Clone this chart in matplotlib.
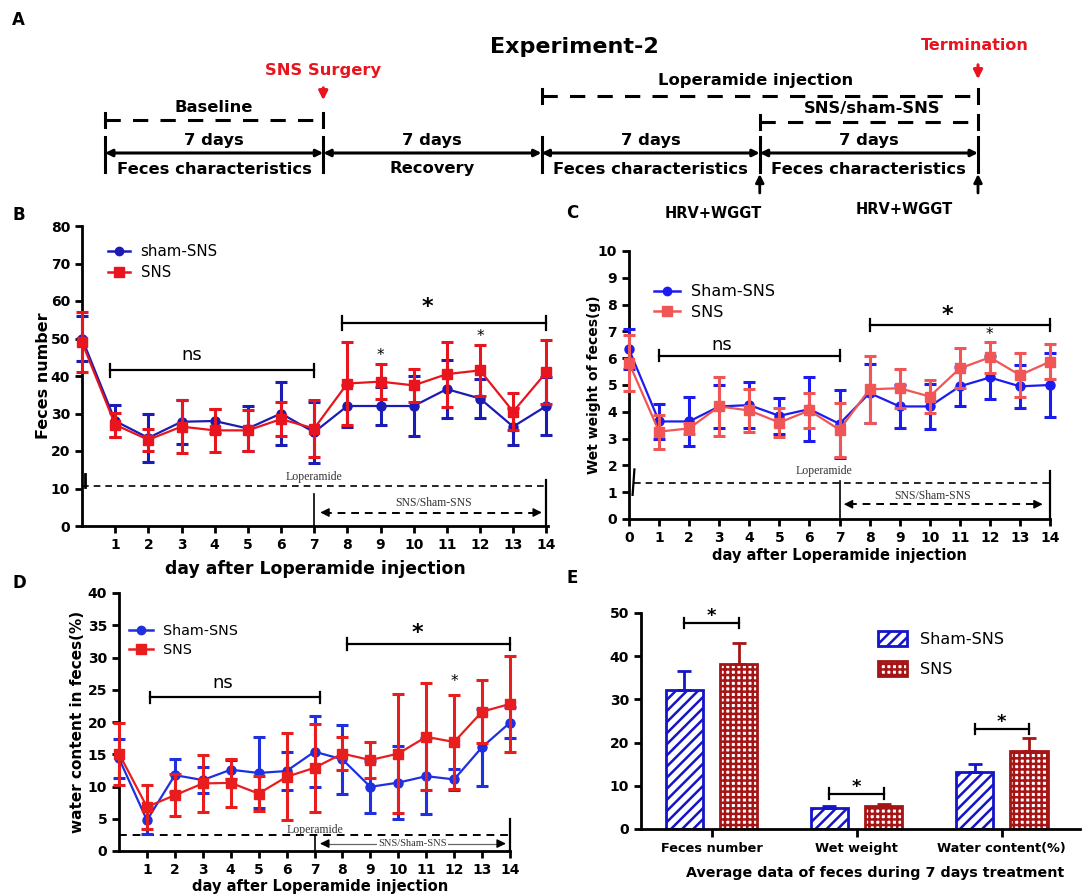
import matplotlib
matplotlib.use("Agg")
import matplotlib.pyplot as plt
from matplotlib.lines import Line2D
from matplotlib.patches import Patch
import numpy as np

W, H = 1084, 894
plt.rcParams['font.family'] = ['DejaVu Sans']
plt.rcParams['font.weight'] = 'bold'
plt.rcParams['axes.labelweight'] = 'bold'
plt.rcParams['hatch.linewidth'] = 1.8

# %% data -------------------------------------------------------------
days = np.arange(15)

# B: feces number
b_sham = [50, 28, 23.5, 27.8, 28, 26, 30, 25, 32, 32, 32, 36.5, 34, 26.5, 32]
b_sham_err = [6, 4.2, 6.5, 5.8, 3.2, 6, 8.5, 8.2, 5.5, 5, 8, 7.8, 5.2, 5, 7.7]
b_sns = [49, 27, 23, 26.5, 25.5, 25.5, 28.5, 26, 38, 38.5, 37.5, 40.5, 41.5, 30.5, 41]
b_sns_err = [8, 3.2, 3, 7, 5.7, 5.5, 4.5, 7.5, 11, 4.7, 4.5, 8.7, 6.7, 5, 8.5]

# C: wet weight of feces (g)
c_sham = [6.33, 3.64, 3.64, 4.2, 4.25, 3.85, 4.1, 3.55, 4.7, 4.2, 4.2, 4.95, 5.28, 4.95, 5.0]
c_sham_err = [0.75, 0.65, 0.9, 0.8, 0.85, 0.68, 1.18, 1.28, 1.1, 0.8, 0.85, 0.72, 0.82, 0.8, 1.2]
c_sns = [5.83, 3.26, 3.38, 4.2, 4.05, 3.6, 4.05, 3.33, 4.84, 4.88, 4.57, 5.62, 6.03, 5.37, 5.87]
c_sns_err = [1.05, 0.63, 0.2, 1.1, 0.8, 0.55, 0.65, 1.0, 1.25, 0.73, 0.63, 0.75, 0.58, 0.83, 0.65]

# D: water content in feces (%)
d_sham = [14.35, 4.77, 11.76, 11.0, 12.6, 12.1, 12.4, 15.4, 14.2, 9.95, 10.6, 11.6, 11.1, 16.1, 19.9]
d_sham_err = [3.0, 2.1, 2.55, 1.95, 1.45, 5.5, 2.9, 5.55, 5.3, 4.05, 5.7, 5.9, 1.6, 5.95, 2.45]
d_sns = [15.1, 6.84, 8.65, 10.47, 10.57, 8.9, 11.5, 12.9, 15.1, 14.1, 15.1, 17.7, 16.9, 21.6, 22.8]
d_sns_err = [4.8, 3.4, 3.25, 4.35, 3.75, 2.75, 6.75, 6.85, 2.5, 2.85, 9.2, 8.3, 7.3, 4.85, 7.45]

# E: averages over the 7 treatment days
e_cats = ['Feces number', 'Wet weight', 'Water content(%)']
e_sham = [32.2, 4.8, 13.1]
e_sham_err = [4.4, 0.5, 2.0]
e_sns = [38.2, 5.4, 18.0]
e_sns_err = [4.8, 0.5, 3.0]

# A: timeline phases (days)
phase_start = [0, 7, 14, 21]
phase_top = ['7 days', '7 days', '7 days', '7 days']
phase_bottom = ['Feces characteristics', 'Recovery', 'Feces characteristics',
                'Feces characteristics']

RED = '#e8141e'

fig = plt.figure(figsize=(W / 100, H / 100), dpi=100)


def add_ax(left, top, right, bottom):
    return fig.add_axes([left / W, 1 - bottom / H, (right - left) / W, (bottom - top) / H])


def fx(px):
    return px / W


def fy(py):
    return 1 - py / H


def style(ax):
    for s in ['top', 'right']:
        ax.spines[s].set_visible(False)
    for s in ['left', 'bottom']:
        ax.spines[s].set_linewidth(2)
    ax.tick_params(width=2, length=5, labelsize=10, direction='out')


def bracket(ax, x0, x1, y, h, lw=1.6):
    ax.plot([x0, x1], [y, y], color='k', lw=lw, clip_on=False)
    ax.plot([x0, x0], [y - h, y + h], color='k', lw=lw, clip_on=False)
    ax.plot([x1, x1], [y - h, y + h], color='k', lw=lw, clip_on=False)


def arrow_heads(ax, x0, x1, y, ms=13):
    ax.annotate('', xy=(x1, y), xytext=(x1 - 0.3, y),
                arrowprops=dict(arrowstyle='-|>', color='k', lw=1, mutation_scale=ms))
    ax.annotate('', xy=(x0, y), xytext=(x0 + 0.3, y),
                arrowprops=dict(arrowstyle='-|>', color='k', lw=1, mutation_scale=ms))


def line_panel(ax, sham, sham_err, sns, sns_err, blue, red):
    ax.errorbar(days, sham, yerr=sham_err, fmt='-o', color=blue, ms=6.5, lw=1.6,
                elinewidth=2.2, capsize=4, capthick=2.2, clip_on=False, zorder=3)
    ax.errorbar(days, sns, yerr=sns_err, fmt='-s', color=red, ms=7, lw=1.6,
                elinewidth=2.2, capsize=4, capthick=2.2, clip_on=False, zorder=4)
    style(ax)


serif = dict(family=['Liberation Serif', 'DejaVu Serif'], weight='normal', color='#333333')
TL = 11.8  # timeline text size

# %% A: timeline -------------------------------------------------------
tl = add_ax(105, 0, 978, 230)
tl.set_xlim(0, 28)
tl.set_ylim(230, 0)
tl.axis('off')
tl.text(15.05, 47, 'Experiment-2', ha='center', va='center', fontsize=16)
tl.text(27.9, 46, 'Termination', ha='center', va='center', fontsize=11.5, color=RED)
tl.annotate('', xy=(28, 82), xytext=(28, 62),
            arrowprops=dict(arrowstyle='-|>', color=RED, lw=2.2, mutation_scale=13))
tl.text(7, 70, 'SNS Surgery', ha='center', va='center', fontsize=11.8, color=RED)
tl.annotate('', xy=(7, 103), xytext=(7, 85),
            arrowprops=dict(arrowstyle='-|>', color=RED, lw=2.2, mutation_scale=13))
tl.text(20.85, 81, 'Loperamide injection', ha='center', va='center', fontsize=TL)
tl.text(3.5, 108, 'Baseline', ha='center', va='center', fontsize=TL)
tl.text(24.6, 108, 'SNS/sham-SNS', ha='center', va='center', fontsize=TL)
for x0, x1, y in [(14, 28, 96), (0, 7, 120), (21, 28, 122)]:
    tl.plot([x0, x1], [y, y], color='k', lw=2.2, dashes=(5, 4), clip_on=False)
    tl.plot([x0, x0], [y - 7, y + 7], color='k', lw=2.2, clip_on=False)
    tl.plot([x1, x1], [y - 7, y + 7], color='k', lw=2.2, clip_on=False)
for d in phase_start + [28]:
    tl.plot([d, d], [137, 172], color='k', lw=2.2, clip_on=False)
for d, top, bottom in zip(phase_start, phase_top, phase_bottom):
    tl.annotate('', xy=(d + 7, 153), xytext=(d, 153),
                arrowprops=dict(arrowstyle='<|-|>', color='k', lw=2.2, mutation_scale=10,
                                shrinkA=0, shrinkB=0))
    tl.text(d + 3.5, 141, top, ha='center', va='center', fontsize=TL)
    tl.text(d + 3.5, 169, bottom, ha='center', va='center', fontsize=TL)
for d in [21, 28]:
    tl.annotate('', xy=(d, 174), xytext=(d, 193),
                arrowprops=dict(arrowstyle='-|>', color='k', lw=2, mutation_scale=12,
                                shrinkA=0, shrinkB=0))
tl.text(19.5, 213, 'HRV+WGGT', ha='center', va='center', fontsize=10.5)
tl.text(25.65, 210, 'HRV+WGGT', ha='center', va='center', fontsize=10.5)

# %% B: feces number ---------------------------------------------------
BLUE_B, RED_B = '#1b1bb5', '#e8141e'
axB = add_ax(82, 226, 548, 526)
line_panel(axB, b_sham, b_sham_err, b_sns, b_sns_err, BLUE_B, RED_B)
axB.set_xlim(0, 14.05)
axB.set_ylim(0, 80)
axB.set_xticks(range(1, 15))
axB.set_yticks(range(0, 81, 10))
axB.set_ylabel('Feces number', fontsize=11.5)
axB.yaxis.set_label_coords(-0.066, 0.5)
axB.set_xlabel('day after Loperamide injection', fontsize=12.4)
axB.xaxis.set_label_coords(0.5, -0.112)
bracket(axB, 0.85, 7, 41.5, 1.8)
axB.text(3.3, 45.5, 'ns', ha='center', va='center', fontsize=13, weight='normal')
bracket(axB, 7.85, 14, 54.2, 1.8)
axB.text(10.4, 58.5, '*', ha='center', va='center', fontsize=16)
axB.text(9, 45.5, '*', ha='center', va='center', fontsize=11, weight='normal')
axB.text(12, 50.5, '*', ha='center', va='center', fontsize=11, weight='normal')
axB.plot([0, 14], [10.8, 10.8], color='k', lw=1.2, dashes=(4, 3))
axB.plot([0.1, 0.1], [10.3, 13.8], color='k', lw=2)
axB.plot([14, 14], [0, 12.2], color='k', lw=1.6, clip_on=False)
axB.plot([7, 7], [0, 8.5], color='k', lw=1.2)
axB.plot([7.3, 13.7], [3.6, 3.6], color='k', lw=1.4, dashes=(4, 3))
arrow_heads(axB, 7.1, 13.95, 3.6)
axB.text(7, 11.4, 'Loperamide', ha='center', va='bottom', fontsize=8.5, **serif)
axB.text(10.6, 4.4, 'SNS/Sham-SNS', ha='center', va='bottom', fontsize=8.5, **serif)
fig.legend(handles=[Line2D([], [], color=BLUE_B, marker='o', lw=1.8, ms=6),
                    Line2D([], [], color=RED_B, marker='s', lw=1.8, ms=6.5)],
           labels=['sham-SNS', 'SNS'], loc='upper left', bbox_to_anchor=(fx(94), fy(231)),
           frameon=False, handlelength=1.5, handletextpad=0.7, labelspacing=0.35,
           prop={'weight': 'normal', 'size': 10.8})

# %% C: wet weight -----------------------------------------------------
BLUE_C, RED_C = '#1c1cf0', '#f05656'
axC = add_ax(629, 251, 1050, 519)
line_panel(axC, c_sham, c_sham_err, c_sns, c_sns_err, BLUE_C, RED_C)
axC.set_xlim(0, 14)
axC.set_ylim(0, 10)
axC.set_xticks(range(0, 15))
axC.set_yticks(range(0, 11))
axC.set_ylabel('Wet weight of feces(g)', fontsize=10)
axC.yaxis.set_label_coords(-0.066, 0.5)
axC.set_xlabel('day after Loperamide injection', fontsize=10.5)
axC.xaxis.set_label_coords(0.5, -0.11)
bracket(axC, 1, 7, 6.1, 0.22)
axC.text(3.1, 6.5, 'ns', ha='center', va='center', fontsize=13, weight='normal')
bracket(axC, 8, 14, 7.25, 0.22)
axC.text(10.6, 7.6, '*', ha='center', va='center', fontsize=16)
axC.text(12, 6.9, '*', ha='center', va='center', fontsize=11, weight='normal')
axC.plot([0.15, 14], [1.35, 1.35], color='k', lw=1.2, dashes=(4, 3))
axC.plot([0.12, 0.18], [0.9, 1.85], color='k', lw=1.6)
axC.plot([14, 14], [0, 1.8], color='k', lw=1.6, clip_on=False)
axC.plot([7, 7], [0, 1.4], color='k', lw=1.2)
axC.plot([7.3, 13.7], [0.55, 0.55], color='k', lw=1.4, dashes=(4, 3))
arrow_heads(axC, 7.05, 13.85, 0.55)
axC.text(6.5, 1.55, 'Loperamide', ha='center', va='bottom', fontsize=8.5, **serif)
axC.text(10.1, 0.62, 'SNS/Sham-SNS', ha='center', va='bottom', fontsize=8.5, **serif)
fig.legend(handles=[Line2D([], [], color=BLUE_C, marker='o', lw=1.8, ms=6),
                    Line2D([], [], color=RED_C, marker='s', lw=1.8, ms=6.5)],
           labels=['Sham-SNS', 'SNS'], loc='upper left', bbox_to_anchor=(fx(640), fy(270)),
           frameon=False, handlelength=1.6, handletextpad=0.7, labelspacing=0.35,
           prop={'weight': 'normal', 'size': 11.5})

# %% D: water content --------------------------------------------------
BLUE_D, RED_D = '#1e30e0', '#e81e1e'
axD = add_ax(119, 593, 510, 851)
line_panel(axD, d_sham, d_sham_err, d_sns, d_sns_err, BLUE_D, RED_D)
axD.set_xlim(0, 14)
axD.set_ylim(0, 40)
axD.set_xticks(range(1, 15))
axD.set_yticks(range(0, 41, 5))
axD.set_ylabel('water content in feces(%)', fontsize=11)
axD.yaxis.set_label_coords(-0.087, 0.5)
axD.set_xlabel('day after Loperamide injection', fontsize=10.6)
axD.xaxis.set_label_coords(0.515, -0.11)
bracket(axD, 1.1, 7.2, 23.8, 0.9)
axD.text(3.7, 26.0, 'ns', ha='center', va='center', fontsize=13, weight='normal')
bracket(axD, 8.15, 14, 32.1, 0.9)
axD.text(10.7, 33.8, '*', ha='center', va='center', fontsize=16)
axD.text(12, 26.3, '*', ha='center', va='center', fontsize=11, weight='normal')
axD.plot([0, 14], [2.45, 2.45], color='k', lw=1.4, dashes=(4, 3))
axD.plot([14, 14], [0, 5], color='k', lw=1.6, clip_on=False)
axD.plot([7, 7], [0, 2.4], color='k', lw=1.2)
axD.plot([7.3, 13.7], [1.15, 1.15], color='#666666', lw=0.9)
arrow_heads(axD, 7.1, 13.95, 1.15)
axD.text(7, 2.3, 'Loperamide', ha='center', va='bottom', fontsize=8.5, **serif)
axD.text(10.5, 1.15, 'SNS/Sham-SNS', ha='center', va='center', fontsize=7.5,
         bbox=dict(facecolor='white', edgecolor='none', pad=1), **serif)
fig.legend(handles=[Line2D([], [], color=BLUE_D, marker='o', lw=1.8, ms=6),
                    Line2D([], [], color=RED_D, marker='s', lw=1.8, ms=6.5)],
           labels=['Sham-SNS', 'SNS'], loc='upper left', bbox_to_anchor=(fx(116), fy(611)),
           frameon=False, handlelength=1.7, handletextpad=0.7, labelspacing=0.35,
           prop={'weight': 'normal', 'size': 10.3})

# %% E: averages -------------------------------------------------------
BLUE_E, RED_E = '#1414c8', '#a51515'
axE = add_ax(641, 613, 1080, 829)
x = np.arange(len(e_cats))
off, bw = 0.187, 0.258
axE.bar(x - off, e_sham, bw, facecolor='white', edgecolor=BLUE_E, hatch='///', lw=2, zorder=2)
axE.bar(x + off, e_sns, bw, facecolor='white', edgecolor=RED_E, hatch='+++', lw=2, zorder=2)
axE.errorbar(x - off, e_sham, yerr=[np.zeros(3), e_sham_err], fmt='none', ecolor=BLUE_E,
             elinewidth=2, capsize=5, capthick=2, zorder=3)
axE.errorbar(x + off, e_sns, yerr=[np.zeros(3), e_sns_err], fmt='none', ecolor=RED_E,
             elinewidth=2, capsize=5, capthick=2, zorder=3)
style(axE)
axE.set_xlim(-0.486, 2.54)
axE.set_ylim(0, 50)
axE.set_yticks(range(0, 51, 10))
axE.set_xticks(x, e_cats, fontsize=9.3)
axE.tick_params(axis='x', length=6)
axE.set_xlabel('Average data of feces during 7 days treatment', fontsize=10.3)
axE.xaxis.set_label_coords(0.533, -0.17)
for i, (yb, ys) in enumerate([(47.7, 49.3), (8.2, 9.8), (23.2, 24.8)]):
    bracket(axE, i - off, i + off, yb, 1.2)
    axE.text(i, ys, '*', ha='center', va='center', fontsize=13)
fig.legend(handles=[Patch(facecolor='white', edgecolor=BLUE_E, hatch='///', lw=2),
                    Patch(facecolor='white', edgecolor=RED_E, hatch='+++', lw=2)],
           labels=['Sham-SNS', 'SNS'], loc='upper left', bbox_to_anchor=(fx(864), fy(617)),
           frameon=False, handlelength=1.8, handleheight=1.0, handletextpad=0.8,
           labelspacing=0.9, prop={'weight': 'normal', 'size': 11.5})

# panel letters
for lab, px, py in [('A', 12, 20), ('B', 12, 215), ('C', 566, 213), ('D', 12, 583),
                    ('E', 566, 578)]:
    fig.text(fx(px), fy(py), lab, ha='left', va='center', fontsize=12)

fig.savefig('out.png', dpi=100)
